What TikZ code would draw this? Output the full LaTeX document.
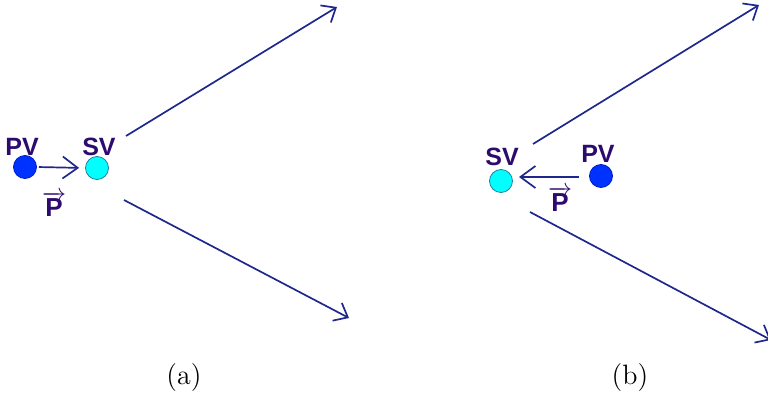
\documentclass[tikz,border=0pt]{standalone}
\usepackage{fontspec}
\newfontfamily\labfont{Liberation Sans}
\usetikzlibrary{arrows.meta}
\definecolor{linec}{RGB}{30,40,140}
\definecolor{labc}{RGB}{45,10,110}
\definecolor{pvfill}{RGB}{0,50,255}
\definecolor{pvline}{RGB}{0,30,200}
\definecolor{svfill}{RGB}{0,255,255}
\definecolor{svline}{RGB}{30,130,160}
\tikzset{
  pvdot/.style={circle,fill=pvfill,draw=pvline,line width=0.4pt,minimum size=11.5pt,inner sep=0pt},
  svdot/.style={circle,fill=svfill,draw=svline,line width=0.4pt,minimum size=11.5pt,inner sep=0pt},
  lab/.style={text=labc,font=\labfont\bfseries\fontsize{12.5}{14}\selectfont,inner sep=0pt},
  plab/.style={text=labc,font=\fontsize{13}{15}\selectfont,inner sep=0pt},
  conn/.style={draw=linec,line width=0.85pt,-{Straight Barb[length=6pt,width=10pt,line width=0.85pt]}},
  sconn/.style={draw=linec,line width=0.85pt,-{Straight Barb[length=7.5pt,width=11pt,line width=0.85pt]}},
  captext/.style={font=\fontsize{14}{16}\selectfont,inner sep=0pt}
}
\begin{document}
\begin{tikzpicture}[x=0.5pt,y=-0.5pt]
\useasboundingbox (0,0) rectangle (768,396);
\clip (0,0) rectangle (768,396);
% (a)
\node[pvdot] (pva) at (25,167) {};
\node[svdot] (sva) at (97,168) {};
\node[lab] (pvla) at (22,147) {PV};
\node[lab] (svla) at (99,147) {SV};
\node[plab] (pa) at (54,204) {$\overrightarrow{\hbox{\labfont\bfseries P}}$};
\draw[sconn,shorten <=1pt,shorten >=3pt] (pva.east) -- (sva.west);
\coordinate (a1s) at (126,136);
\coordinate (a1e) at (337,7);
\coordinate (a2s) at (124,200);
\coordinate (a2e) at (349,318);
\draw[conn] (a1s) -- (a1e);
\draw[conn] (a2s) -- (a2e);
\node[captext] (capa) at (184,378) {(a)};
% (b)
\node[svdot] (svb) at (501,181) {};
\node[pvdot] (pvb) at (601,176) {};
\node[lab] (svlb) at (502,157) {SV};
\node[lab] (pvlb) at (598,154) {PV};
\node[plab] (pb) at (560,199) {$\overrightarrow{\hbox{\labfont\bfseries P}}$};
\coordinate (bs) at (579,177);
\coordinate (be) at (519,177);
\draw[sconn] (bs) -- (be);
\coordinate (b1s) at (533,144);
\coordinate (b1e) at (759,5);
\coordinate (b2s) at (530,212);
\coordinate (b2e) at (771,340);
\draw[conn] (b1s) -- (b1e);
\draw[conn] (b2s) -- (b2e);
\node[captext] (capb) at (630,378) {(b)};
\end{tikzpicture}
\end{document}
